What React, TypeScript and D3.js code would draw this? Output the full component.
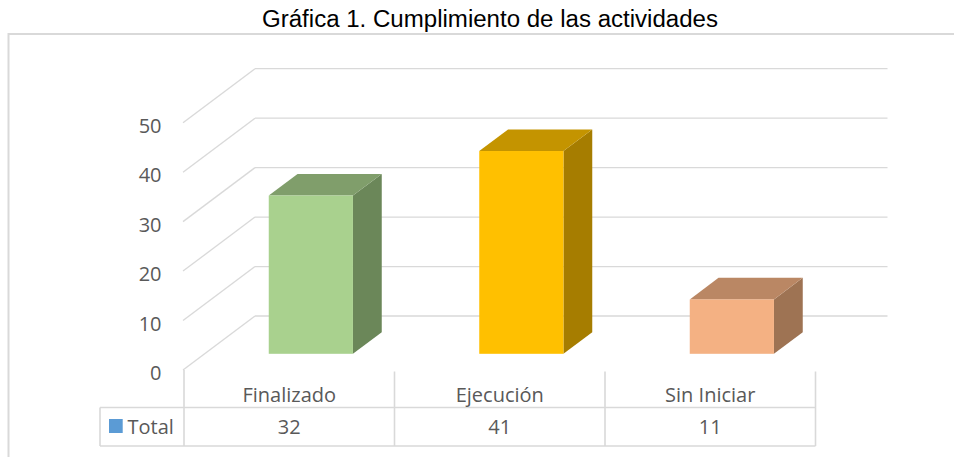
import React from "react";
import * as d3 from "d3";

const title = "Gráfica 1. Cumplimiento de las actividades";
const categories = ["Finalizado", "Ejecución", "Sin Iniciar"];
const values = [32, 41, 11];
const seriesName = "Total";
const yTicks = [0, 10, 20, 30, 40, 50];
const frontColors = ["#A9D18E", "#FFC000", "#F4B183"];
const topColors = ["#809E6B", "#C49400", "#BA8764"];
const sideColors = ["#6B8759", "#A67D00", "#9E7353"];

const W = 954;
const H = 457;
const FONT = "'Open Sans', 'Noto Sans', sans-serif";
const GRID = "#D9D9D9";
const TEXT = "#595959";

export default function App() {
  const floorLeft = 184;
  const floorRight = 815.5;
  const depthX = 72;
  const depthY = -54;
  const y = d3.scaleLinear().domain([0, 50]).range([370, 122.7]);
  const x = d3
    .scaleBand<string>()
    .domain(categories)
    .range([floorLeft, floorRight])
    .paddingInner(0)
    .paddingOuter(0);
  const band = x.bandwidth();
  const barW = band * 0.4;
  const d0 = 0.3;
  const d1 = 0.7;
  const tableTop = 407.5;
  const tableBottom = 446;
  const tableLeft = 100;

  return (
    <svg
      width={W}
      height={H}
      style={{ position: "fixed", left: 0, top: 0, background: "#fff" }}
    >
      <rect x={0} y={0} width={W} height={H} fill="#fff" />
      <text
        x={490}
        y={27}
        textAnchor="middle"
        fontFamily="'Liberation Sans', Arial, sans-serif"
        fontSize={23.5}
        textLength={456}
        lengthAdjust="spacingAndGlyphs"
        fill="#000"
      >
        {title}
      </text>
      <rect
        x={8.5}
        y={34}
        width={1000}
        height={500}
        fill="none"
        stroke={GRID}
        strokeWidth={2}
      />
      {/* gridlines */}
      {yTicks.map((t) => (
        <g key={t}>
          <line
            x1={floorLeft - 1}
            y1={y(t)}
            x2={floorLeft - 1 + depthX}
            y2={y(t) + depthY}
            stroke={GRID}
            strokeWidth={1.3}
          />
          <line
            x1={floorLeft - 1 + depthX}
            y1={y(t) + depthY}
            x2={floorRight + depthX}
            y2={y(t) + depthY}
            stroke={GRID}
            strokeWidth={1.3}
          />
          <text
            x={161.5}
            y={y(t) + 10}
            textAnchor="end"
            fontFamily={FONT}
            fontSize={20}
            fill={TEXT}
          >
            {t}
          </text>
        </g>
      ))}
      {/* bars */}
      {categories.map((c, i) => {
        const v = values[i];
        const fx = (x(c) as number) + (band - barW) / 2 + d0 * depthX;
        const fb = y(0) + d0 * depthY;
        const ft = fb - (y(0) - y(v));
        const ox = (d1 - d0) * depthX;
        const oy = (d1 - d0) * depthY;
        const topPath = `M${fx},${ft} L${fx + ox},${ft + oy} L${fx + barW + ox},${ft + oy} L${fx + barW},${ft} Z`;
        const sidePath = `M${fx + barW},${ft} L${fx + barW + ox},${ft + oy} L${fx + barW + ox},${fb + oy} L${fx + barW},${fb} Z`;
        return (
          <g key={c}>
            <path d={sidePath} fill={sideColors[i]} />
            <path d={topPath} fill={topColors[i]} />
            <rect x={fx} y={ft} width={barW} height={fb - ft} fill={frontColors[i]} />
          </g>
        );
      })}
      {/* category dividers & table */}
      {[...categories.map((c) => x(c) as number), floorRight].map((xv, i) => (
        <line
          key={i}
          x1={xv}
          y1={i === 0 ? y(0) : y(0) + 1.5}
          x2={xv}
          y2={tableBottom}
          stroke={GRID}
          strokeWidth={1.6}
        />
      ))}
      <line x1={tableLeft} y1={tableTop} x2={floorRight} y2={tableTop} stroke={GRID} strokeWidth={1.6} />
      <line x1={tableLeft} y1={tableBottom} x2={floorRight} y2={tableBottom} stroke={GRID} strokeWidth={1.6} />
      <line x1={tableLeft} y1={tableTop} x2={tableLeft} y2={tableBottom} stroke={GRID} strokeWidth={1.6} />
      {categories.map((c, i) => (
        <g key={c}>
          <text
            x={(x(c) as number) + band / 2}
            y={401.5}
            textAnchor="middle"
            fontFamily={FONT}
            fontSize={20}
            fill={TEXT}
          >
            {c}
          </text>
          <text
            x={(x(c) as number) + band / 2}
            y={434}
            textAnchor="middle"
            fontFamily={FONT}
            fontSize={20}
            fill={TEXT}
          >
            {values[i]}
          </text>
        </g>
      ))}
      <rect x={109} y={419} width={13.7} height={14} fill="#5B9BD5" />
      <text x={127.5} y={434} fontFamily={FONT} fontSize={20} fill={TEXT}>
        {seriesName}
      </text>
    </svg>
  );
}
